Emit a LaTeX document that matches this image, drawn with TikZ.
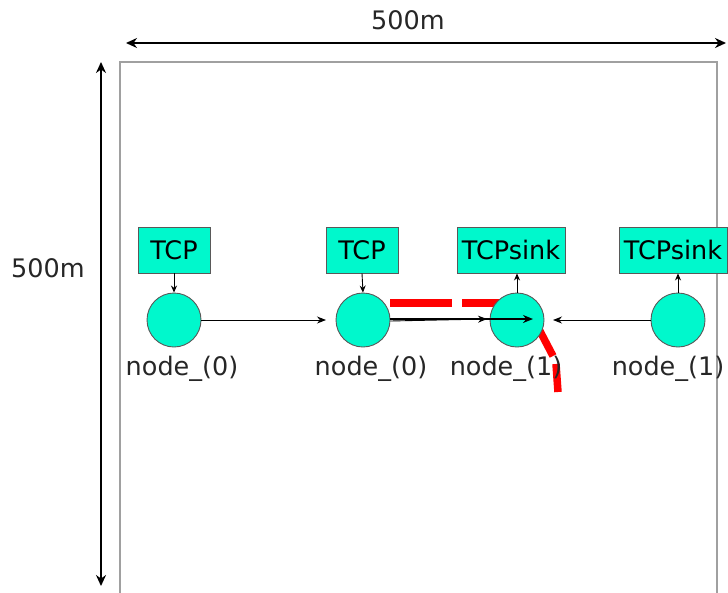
\documentclass[tikz,border=0pt]{standalone}
\usepackage{fontspec}
\setmainfont{DejaVu Sans}
\usetikzlibrary{arrows.meta}
\definecolor{aqua}{HTML}{00F8CC}
\definecolor{framegray}{HTML}{A0A0A0}
\begin{document}
\begin{tikzpicture}[x=1pt,y=-1pt,
  font=\fontsize{25.5}{28}\selectfont,
  agentbox/.style={draw=black!65, fill=aqua, minimum height=46, inner sep=0pt, line width=0.9},
  tcpbox/.style={agentbox, minimum width=72},
  sinkbox/.style={agentbox, minimum width=108},
  mnode/.style={circle, draw=black!65, fill=aqua, minimum size=54, inner sep=0pt, line width=0.9},
  lbl/.style={inner sep=0pt, text=black!85},
  dim/.style={line width=2.4, {Stealth[length=11,width=10]}-{Stealth[length=11,width=10]}},
  link/.style={line width=0.9, -{Stealth[length=9,width=7]}},
  attach/.style={line width=0.9, -{Stealth[length=7,width=6]}},
  route/.style={red, line width=7.5}
]
\useasboundingbox (0,0) rectangle (728,592);

% field frame
\draw[framegray, line width=1.2] (120,600) -- (120,62) -- (717,62) -- (717,600);

% dimension arrows
\coordinate (wl) at (126,43);
\coordinate (wr) at (726,43);
\coordinate (ht) at (101,62);
\coordinate (hb) at (101,586);
\draw[dim] (wl) -- (wr);
\draw[dim] (ht) -- (hb);
\node[lbl] (wlabel) at (408,20) {500m};
\node[lbl] (hlabel) at (48,268) {500m};

% red route (drawn beneath nodes)
\draw[route] (390,303) -- (452,303);
\draw[route] (462,303) -- (505,303);
\draw[route] (530,312) -- (553,356);
\draw[route] (556,364) -- (558,392);

% agents
\node[tcpbox]  (a1) at (174,250) {TCP};
\node[tcpbox]  (a2) at (362,250) {TCP};
\node[sinkbox] (a3) at (511,250) {TCPsink};
\node[sinkbox] (a4) at (673,250) {TCPsink};

% mobile nodes
\node[mnode] (n1) at (174,320) {};
\node[mnode] (n2) at (363,320) {};
\node[mnode] (n3) at (517,320) {};
\node[mnode] (n4) at (678,320) {};

% labels
\node[lbl] (l1) at (182,369) {node\_(0)};
\node[lbl] (l2) at (371,369) {node\_(0)};
\node[lbl] (l3) at (506,369) {node\_(1)};
\node[lbl] (l4) at (668,369) {node\_(1)};

% agent attachments
\draw[attach] (a1.south) -- (n1.north);
\draw[attach] (a2.south) -- (n2.north);
\draw[attach] (n3.north) -- (n3.north |- a3.south);
\draw[attach] (n4.north) -- (n4.north |- a4.south);

% links
\coordinate (t12) at (326,320);
\coordinate (t43) at (553,320);
\coordinate (t23a) at (487,319);
\coordinate (t23b) at (533,319);
\draw[link] (n1.east) -- (t12);
\draw[link] (n4.west) -- (t43);
\draw[link] ([yshift=-1]n2.east) -- (t23a);
\draw[line width=1.8, -{Stealth[length=10,width=8]}] ([yshift=1]n2.east) -- (t23b);
\end{tikzpicture}
\end{document}
